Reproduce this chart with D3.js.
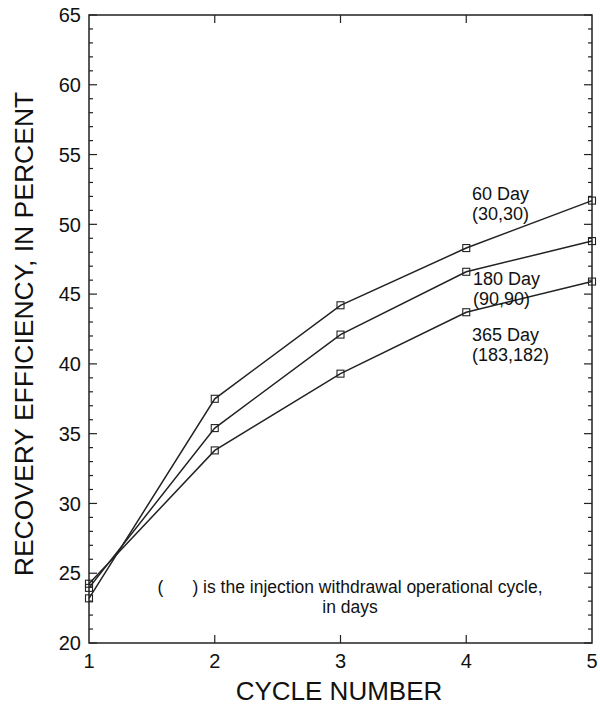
<!DOCTYPE html>
<html><head><meta charset="utf-8">
<script src="https://cdn.jsdelivr.net/npm/d3@7"></script>
<style>body{margin:0;background:#fff}svg{display:block}text{font-family:"Liberation Sans",Arial,sans-serif;fill:#111}</style>
</head><body>
<script>
const cycles = [1, 2, 3, 4, 5];
const day60 = [23.2, 37.5, 44.2, 48.3, 51.7];
const day180 = [23.95, 35.4, 42.1, 46.6, 48.8];
const day365 = [24.25, 33.8, 39.3, 43.7, 45.9];
const seriesNames = ["60 Day", "180 Day", "365 Day"];
const seriesSub = ["(30,30)", "(90,90)", "(183,182)"];
const yTicks = [20, 25, 30, 35, 40, 45, 50, 55, 60, 65];

const W = 600, H = 706;
const m = {l: 89, r: 8, t: 15, b: 63};
const svg = d3.select("body").append("svg").attr("width", W).attr("height", H);
const x = d3.scaleLinear().domain([1, 5]).range([m.l, W - m.r]);
const y = d3.scaleLinear().domain([20, 65]).range([H - m.b, m.t]);

const stroke = "#222";
svg.append("rect").attr("x", x(1)).attr("y", y(65)).attr("width", x(5) - x(1)).attr("height", y(20) - y(65))
  .attr("fill", "none").attr("stroke", stroke).attr("stroke-width", 1.5);

const minor = d3.range(20, 66, 1);
minor.forEach(v => {
  const len = v % 5 === 0 ? 8 : 4;
  svg.append("line").attr("x1", x(1)).attr("x2", x(1) + len).attr("y1", y(v)).attr("y2", y(v)).attr("stroke", stroke).attr("stroke-width", 1.2);
  svg.append("line").attr("x1", x(5)).attr("x2", x(5) - len).attr("y1", y(v)).attr("y2", y(v)).attr("stroke", stroke).attr("stroke-width", 1.2);
});
yTicks.forEach(v => {
  svg.append("text").attr("x", x(1) - 8).attr("y", y(v)).attr("dy", "0.36em").attr("text-anchor", "end")
    .attr("font-size", 20).text(v);
});
cycles.forEach(c => {
  if (c > 1 && c < 5) {
    svg.append("line").attr("x1", x(c)).attr("x2", x(c)).attr("y1", y(20)).attr("y2", y(20) - 8).attr("stroke", stroke).attr("stroke-width", 1.2);
    svg.append("line").attr("x1", x(c)).attr("x2", x(c)).attr("y1", y(65)).attr("y2", y(65) + 8).attr("stroke", stroke).attr("stroke-width", 1.2);
  }
  svg.append("text").attr("x", x(c)).attr("y", y(20) + 25).attr("text-anchor", "middle").attr("font-size", 20).text(c);
});

svg.append("text").attr("x", 339).attr("y", 700).attr("text-anchor", "middle").attr("font-size", 26).text("CYCLE NUMBER");
svg.append("text").attr("transform", `translate(33,334) rotate(-90)`).attr("text-anchor", "middle")
  .attr("font-size", 26.5).text("RECOVERY EFFICIENCY, IN PERCENT");

const all = [day60, day180, day365];
const line = d3.line().x((d, i) => x(cycles[i])).y(d => y(d));
all.forEach(s => {
  svg.append("path").datum(s).attr("d", line).attr("fill", "none").attr("stroke", stroke).attr("stroke-width", 1.5);
  svg.selectAll(null).data(s).enter().append("rect")
    .attr("x", (d, i) => x(cycles[i]) - 3.5).attr("y", d => y(d) - 3.5).attr("width", 7).attr("height", 7)
    .attr("fill", "none").attr("stroke", stroke).attr("stroke-width", 1.1);
});

const labPos = [[472, 200], [473, 285], [472, 341]];
labPos.forEach((p, i) => {
  svg.append("text").attr("x", p[0]).attr("y", p[1]).attr("font-size", 18).text(seriesNames[i]);
  svg.append("text").attr("x", p[0]).attr("y", p[1] + 20).attr("font-size", 18).text(seriesSub[i]);
});

svg.append("text").attr("x", 350).attr("y", 593).attr("text-anchor", "middle").attr("font-size", 17.5)
  .style("white-space", "pre").text("(      ) is the injection withdrawal operational cycle,");
svg.append("text").attr("x", 350).attr("y", 613).attr("text-anchor", "middle").attr("font-size", 17.5).text("in days");
</script>
</body></html>
